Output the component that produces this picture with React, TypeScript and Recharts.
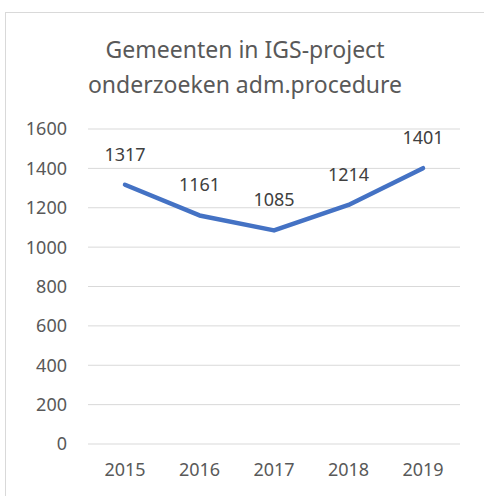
import { LineChart, Line, XAxis, YAxis, CartesianGrid, LabelList } from "recharts";

const years = ["2015", "2016", "2017", "2018", "2019"];
const gemeenten = [1317, 1161, 1085, 1214, 1401];
const yTicks = [0, 200, 400, 600, 800, 1000, 1200, 1400, 1600];
const titleLines = ["Gemeenten in IGS-project", "onderzoeken adm.procedure"];

const FONT = "'Noto Sans', 'Open Sans', sans-serif";

export default function App() {
  const data = years.map((year, i) => ({ year, value: gemeenten[i] }));

  return (
    <div
      style={{
        position: "absolute",
        left: 0,
        top: 0,
        width: 484,
        height: 496,
        background: "#fff",
        overflow: "hidden",
        fontFamily: FONT,
      }}
    >
      <div
        style={{
          position: "absolute",
          left: 5,
          top: 12,
          width: 520,
          height: 520,
          border: "1px solid #d9d9d9",
        }}
      />
      {titleLines.map((t, i) => (
        <div
          key={t}
          style={{
            position: "absolute",
            left: 0,
            width: 490,
            top: 33 + i * 35,
            textAlign: "center",
            fontSize: 23,
            lineHeight: "32px",
            color: "#595959",
          }}
        >
          {t}
        </div>
      ))}
      <LineChart
        width={484}
        height={496}
        data={data}
        margin={{ top: 129, right: 24, bottom: 0, left: 0 }}
        style={{ position: "absolute", left: 0, top: 0 }}
      >
        <CartesianGrid vertical={false} stroke="#d9d9d9" strokeWidth={1} />
        <XAxis
          dataKey="year"
          axisLine={false}
          tickLine={false}
          tickSize={0}
          tickMargin={19}
          height={52}
          padding={{ left: 37, right: 37 }}
          tick={{ fill: "#595959", fontSize: 18, fontFamily: FONT }}
        />
        <YAxis
          domain={[0, 1600]}
          ticks={yTicks}
          axisLine={false}
          tickLine={false}
          tickSize={0}
          tickMargin={21}
          width={88}
          tick={{ fill: "#595959", fontSize: 18, fontFamily: FONT }}
        />
        <Line
          type="linear"
          dataKey="value"
          stroke="#4472C4"
          strokeWidth={4.5}
          strokeLinecap="round"
          strokeLinejoin="round"
          dot={false}
          isAnimationActive={false}
        >
          <LabelList
            dataKey="value"
            position="top"
            offset={24}
            fill="#404040"
            fontSize={18}
            fontFamily={FONT}
          />
        </Line>
      </LineChart>
    </div>
  );
}
